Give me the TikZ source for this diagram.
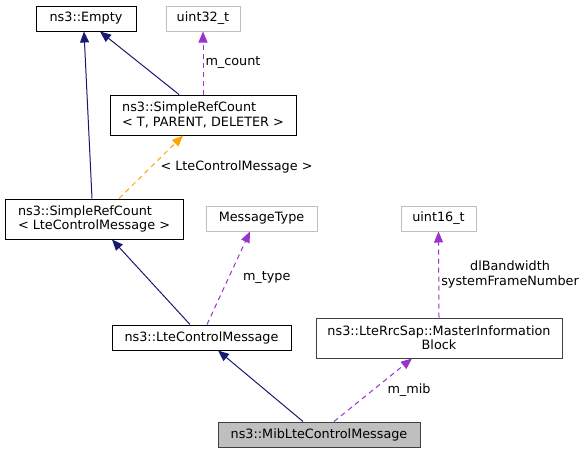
\documentclass[tikz,border=0pt]{standalone}
\usepackage{xcolor}
\usepackage{fontspec}
\setmainfont{DejaVu Sans}
\usepackage{tikz}
\usetikzlibrary{shapes, arrows.meta}
\definecolor{inhblue}{HTML}{191970}
\definecolor{usepurple}{HTML}{9A32CD}
\definecolor{tplorange}{HTML}{FFA500}
\definecolor{extgray}{HTML}{BFBFBF}
\tikzstyle{classbox} = [rectangle, draw=black, fill=white, line width=1pt, inner sep=0pt, minimum height=25pt, align=left]
\tikzstyle{externbox} = [classbox, draw=extgray]
\tikzstyle{mainbox} = [classbox, draw=black!75, fill=extgray]
\tikzstyle{inherit} = [line width=1pt, draw=inhblue, -{Triangle[width=9pt,length=11pt,fill=inhblue]}]
\tikzstyle{usage} = [line width=1pt, draw=usepurple, dash pattern=on 5pt off 4pt, -{Triangle[width=9pt,length=11pt,fill=usepurple]}]
\tikzstyle{tmpl} = [line width=1pt, draw=tplorange, dash pattern=on 5pt off 4pt, -{Triangle[width=9pt,length=11pt,fill=tplorange]}]
\tikzstyle{lbl} = [inner sep=2pt, align=center]

\begin{document}
\begin{tikzpicture}[x=1pt, y=-1pt, font=\fontsize{12.8}{14.3}\selectfont]
\useasboundingbox (0,0) rectangle (586,453);
\node (empty) [classbox, minimum width=100pt] at (86,18.5) {ns3::Empty};
\node (uint32) [externbox, minimum width=74pt] at (203,18.5) {uint32\_t};
\node (srct) [classbox, minimum width=186pt, minimum height=40pt] at (203,115) {ns3::SimpleRefCount\\< T, PARENT, DELETER >};
\node (srclcm) [classbox, minimum width=178pt, minimum height=40pt] at (94,219) {ns3::SimpleRefCount\\< LteControlMessage >};
\node (msgtype) [externbox, minimum width=111pt] at (261.5,218.5) {MessageType};
\node (uint16) [externbox, minimum width=75pt] at (438.5,218.5) {uint16\_t};
\node (lcm) [classbox, minimum width=179pt] at (201.5,337.5) {ns3::LteControlMessage};
\node (mib) [classbox, draw=black!75, minimum width=246pt, minimum height=40pt, align=center] at (439,338) {ns3::LteRrcSap::MasterInformation\\Block};
\node (mibmsg) [mainbox, minimum width=202pt] at (319,434.5) {ns3::MibLteControlMessage};

%---------------------------------ARROWS
\draw [inherit] ([xshift=-2pt]srclcm.north) -- ([xshift=-2pt]empty.south);
\draw [inherit] ([xshift=-24pt]srct.north) -- ([xshift=14pt]empty.south);
\draw [usage] (srct.north) -- (uint32.south) node [lbl, midway, right] {m\_count};
\draw [tmpl] ([xshift=25pt]srclcm.north) -- ([xshift=-20pt]srct.south) node [lbl, midway, right, xshift=7pt] {< LteControlMessage >};
\draw [inherit] ([xshift=-11.5pt]lcm.north) -- ([xshift=18pt]srclcm.south);
\draw [usage] ([xshift=5.5pt]lcm.north) -- ([xshift=-11.5pt]msgtype.south) node [lbl, midway, right, xshift=12pt] {m\_type};
\draw [usage] (mib.north) -- (uint16.south) node [lbl, midway, right] {dlBandwidth\\systemFrameNumber};
\draw [inherit] ([xshift=-16pt]mibmsg.north) -- ([xshift=16.5pt]lcm.south);
\draw [usage] ([xshift=15pt]mibmsg.north) -- ([xshift=-27pt]mib.south) node [lbl, midway, right, xshift=12pt] {m\_mib};

\end{tikzpicture}
\end{document}
